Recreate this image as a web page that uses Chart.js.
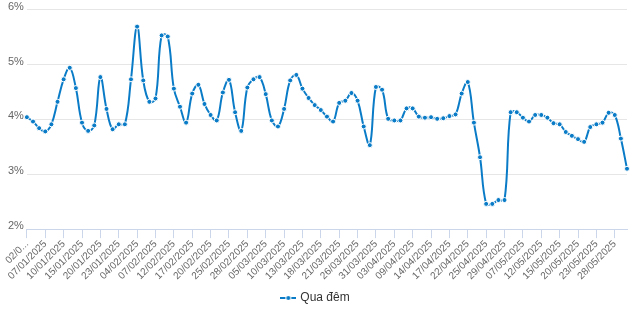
<!DOCTYPE html>
<html>
<head>
<meta charset="utf-8">
<script src="https://cdn.jsdelivr.net/npm/chart.js@4.4.1/dist/chart.umd.min.js"></script>
<style>
  html, body { margin: 0; padding: 0; background: #fff; }
  #wrap { width: 640px; height: 320px; }
</style>
</head>
<body>
<div id="wrap"><canvas id="rateChart"></canvas></div>
<script>
// Business days, Jan–May 2025
const jan = ["02", "03", "06", "07", "08", "09", "10", "13", "14", "15", "16", "17", "20", "21", "22", "23", "24"];
const feb = ["03", "04", "05", "06", "07", "10", "11", "12", "13", "14", "17", "18", "19", "20", "21", "24", "25", "26", "27", "28"];
const mar = ["03", "04", "05", "06", "07", "10", "11", "12", "13", "14", "17", "18", "19", "20", "21", "24", "25", "26", "27", "28", "31"];
const apr = ["01", "02", "03", "04", "08", "09", "10", "11", "14", "15", "16", "17", "18", "21", "22", "23", "24", "25", "26", "28", "29"];
const may = ["05", "06", "07", "08", "09", "12", "13", "14", "15", "16", "19", "20", "21", "22", "23", "26", "27", "28", "29", "30"];

const dates = [
  ...jan.map(d => `${d}/01/2025`),
  ...feb.map(d => `${d}/02/2025`),
  ...mar.map(d => `${d}/03/2025`),
  ...apr.map(d => `${d}/04/2025`),
  ...may.map(d => `${d}/05/2025`)
];

// Overnight rate (%)
const overnight = [
  4.04, 3.96, 3.84, 3.78, 3.91, 4.32, 4.73, 4.94, 4.57, 3.94,
  3.79, 3.89, 4.77, 4.19, 3.82, 3.91, 3.91, 4.73, 5.69, 4.71,
  4.32, 4.38, 5.53, 5.51, 4.56, 4.23, 3.94, 4.47, 4.63, 4.28,
  4.08, 3.98, 4.49, 4.72, 4.13, 3.79, 4.58, 4.73, 4.77, 4.46,
  3.98, 3.87, 4.19, 4.71, 4.81, 4.56, 4.39, 4.26, 4.17, 4.05,
  3.96, 4.30, 4.34, 4.48, 4.34, 3.87, 3.53, 4.59, 4.54, 4.01,
  3.98, 3.98, 4.20, 4.20, 4.05, 4.03, 4.04, 4.01, 4.02, 4.06,
  4.09, 4.47, 4.68, 3.94, 3.31, 2.46, 2.46, 2.53, 2.53, 4.13,
  4.13, 4.03, 3.96, 4.08, 4.08, 4.03, 3.93, 3.91, 3.77, 3.70,
  3.64, 3.59, 3.86, 3.91, 3.94, 4.12, 4.08, 3.65, 3.10
];

const yTicks = [2, 3, 4, 5, 6];
const seriesName = "Qua đêm";
const lineColor = "#0a7cc7";
const fontFamily = "'Liberation Sans', Arial, sans-serif";

// legend icon: short line with a dot in the middle
function legendIcon() {
  const c = document.createElement("canvas");
  c.width = 16;
  c.height = 6;
  const g = c.getContext("2d");
  g.strokeStyle = lineColor;
  g.lineWidth = 2;
  g.beginPath();
  g.moveTo(0, 3);
  g.lineTo(16, 3);
  g.stroke();
  g.fillStyle = "#fff";
  g.beginPath();
  g.arc(8, 3, 3, 0, Math.PI * 2);
  g.fill();
  g.fillStyle = lineColor;
  g.beginPath();
  g.arc(8, 3, 2, 0, Math.PI * 2);
  g.fill();
  return c;
}

const ctx = document.getElementById("rateChart").getContext("2d");

new Chart(ctx, {
  type: "line",
  data: {
    labels: dates,
    datasets: [{
      label: seriesName,
      data: overnight,
      borderColor: lineColor,
      backgroundColor: lineColor,
      borderWidth: 2,
      tension: 0.4,
      pointRadius: 2.5,
      pointBackgroundColor: lineColor,
      pointBorderColor: "#fff",
      pointBorderWidth: 1,
      fill: false
    }]
  },
  options: {
    responsive: true,
    maintainAspectRatio: false,
    animation: false,
    layout: { padding: { top: 8, right: 13, left: 5, bottom: 6 } },
    scales: {
      x: {
        grid: {
          drawOnChartArea: false,
          color: "#ccd6eb",
          tickLength: 9
        },
        border: { color: "#ccd6eb" },
        ticks: {
          autoSkip: false,
          minRotation: 45,
          maxRotation: 45,
          padding: 0,
          color: "#666",
          font: { family: fontFamily, size: 10 },
          callback: function (value, index) {
            if (index % 3 !== 0) return null;
            if (index === 0) return "02/0...";
            return this.getLabelForValue(value);
          }
        }
      },
      y: {
        min: yTicks[0],
        max: yTicks[yTicks.length - 1],
        afterBuildTicks: axis => { axis.ticks = yTicks.map(v => ({ value: v })); },
        grid: { color: "#e6e6e6", drawTicks: false },
        border: { display: false },
        ticks: {
          padding: 3,
          labelOffset: -3,
          color: "#666",
          font: { family: fontFamily, size: 11 },
          callback: v => v + "%"
        }
      }
    },
    plugins: {
      legend: {
        position: "bottom",
        labels: {
          usePointStyle: true,
          pointStyle: legendIcon(),
          color: "#333",
          font: { family: fontFamily, size: 12 },
          padding: 10
        }
      },
      tooltip: { enabled: false }
    }
  }
});
</script>
</body>
</html>
